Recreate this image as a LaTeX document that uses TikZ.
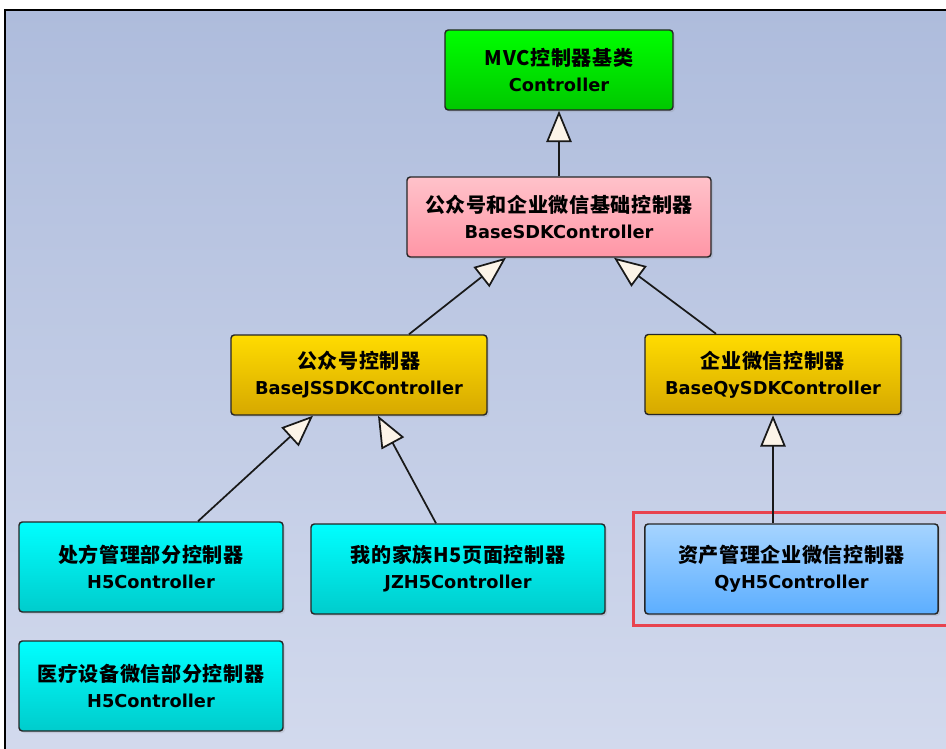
\documentclass[tikz,border=0pt]{standalone}
\usepackage{fontspec}
\newfontfamily\cjk[Scale=1.18,LetterSpace=3]{Noto Sans CJK SC}
\newfontfamily\latin[Scale=1.045]{DejaVu Sans}
\usetikzlibrary{arrows.meta,calc,fit,shadows}

\definecolor{bgtop}{HTML}{AEBCDC}
\definecolor{bgbot}{HTML}{D4DBEE}
\definecolor{greentop}{HTML}{00FF00}
\definecolor{greenbot}{HTML}{00C800}
\definecolor{pinktop}{HTML}{FFC2CA}
\definecolor{pinkbot}{HTML}{FF96A6}
\definecolor{goldtop}{HTML}{FFDC00}
\definecolor{goldbot}{HTML}{D6A800}
\definecolor{cyantop}{HTML}{00FFFF}
\definecolor{cyanbot}{HTML}{00CCCC}
\definecolor{bluetop}{HTML}{A6D4FF}
\definecolor{bluebot}{HTML}{5CAEFF}
\definecolor{tipfill}{HTML}{FCF4E8}
\definecolor{hlred}{HTML}{E8434F}

\begin{document}
\begin{tikzpicture}[x=0.75pt,y=-0.75pt]
		\tikzset{box/.style = {draw=black!85, line width=1.1pt, rounded corners=2.5pt, align=center, inner sep=0pt,
				font=\fontsize{12.75}{19.5}\selectfont\bfseries,
				drop shadow={shadow xshift=1.5pt, shadow yshift=-1.5pt, opacity=0.18}}}
		\tikzset{edge/.style = {-{Triangle[fill=tipfill, length=23.5pt, width=19pt]}, line width=1.3pt, black!90}}
		
		\useasboundingbox (0,0) rectangle (946,749);
		\draw[line width=1.1pt, top color=bgtop, bottom color=bgbot] (5,10) rectangle (990,790);
		
		\node[box, top color=greentop, bottom color=greenbot, minimum width=171pt, minimum height=60pt] (mvc) at (559,70) {{\cjk MVC控制器基类}\\{\latin Controller}};
		\node[box, top color=pinktop,  bottom color=pinkbot,  minimum width=228pt, minimum height=60pt] (sdk) at (559,217) {{\cjk 公众号和企业微信基础控制器}\\{\latin BaseSDKController}};
		\node[box, top color=goldtop,  bottom color=goldbot,  minimum width=192pt, minimum height=60pt] (js)  at (359,375) {{\cjk 公众号控制器}\\{\latin BaseJSSDKController}};
		\node[box, top color=goldtop,  bottom color=goldbot,  minimum width=192pt, minimum height=60pt] (qy)  at (773,374.5) {{\cjk 企业微信控制器}\\{\latin BaseQySDKController}};
		\node[box, top color=cyantop,  bottom color=cyanbot,  minimum width=198pt, minimum height=67.5pt] (h5) at (151,567) {{\cjk 处方管理部分控制器}\\{\latin H5Controller}};
		\node[box, top color=cyantop,  bottom color=cyanbot,  minimum width=220.5pt, minimum height=67.5pt] (jz) at (458,569) {{\cjk 我的家族H5页面控制器}\\{\latin JZH5Controller}};
		\node[box, top color=bluetop,  bottom color=bluebot,  minimum width=220pt, minimum height=67.5pt] (qyh) at (791.5,569) {{\cjk 资产管理企业微信控制器}\\{\latin QyH5Controller}};
		\node[box, top color=cyantop,  bottom color=cyanbot,  minimum width=198pt, minimum height=67.5pt] (yl) at (151,686) {{\cjk 医疗设备微信部分控制器}\\{\latin H5Controller}};
		
		\node[draw=hlred, line width=2.2pt, inner sep=8pt, fit=(qyh)] (sel) {};
		
		\draw[edge] (sdk) to (mvc);
		\draw[edge] ($(js.north)+(50,0)$) to ($(sdk.south)+(-53,0)$);
		\draw[edge] ($(qy.north)+(-57,0)$) to ($(sdk.south)+(55,0)$);
		\draw[edge] ($(h5.north)+(47,0)$) to ($(js.south)+(-46,0)$);
		\draw[edge] ($(jz.north)+(-22,0)$) to ($(js.south)+(19,0)$);
		\draw[edge] ($(qyh.north)+(-18.5,0)$) to (qy.south);
\end{tikzpicture}
\end{document}
